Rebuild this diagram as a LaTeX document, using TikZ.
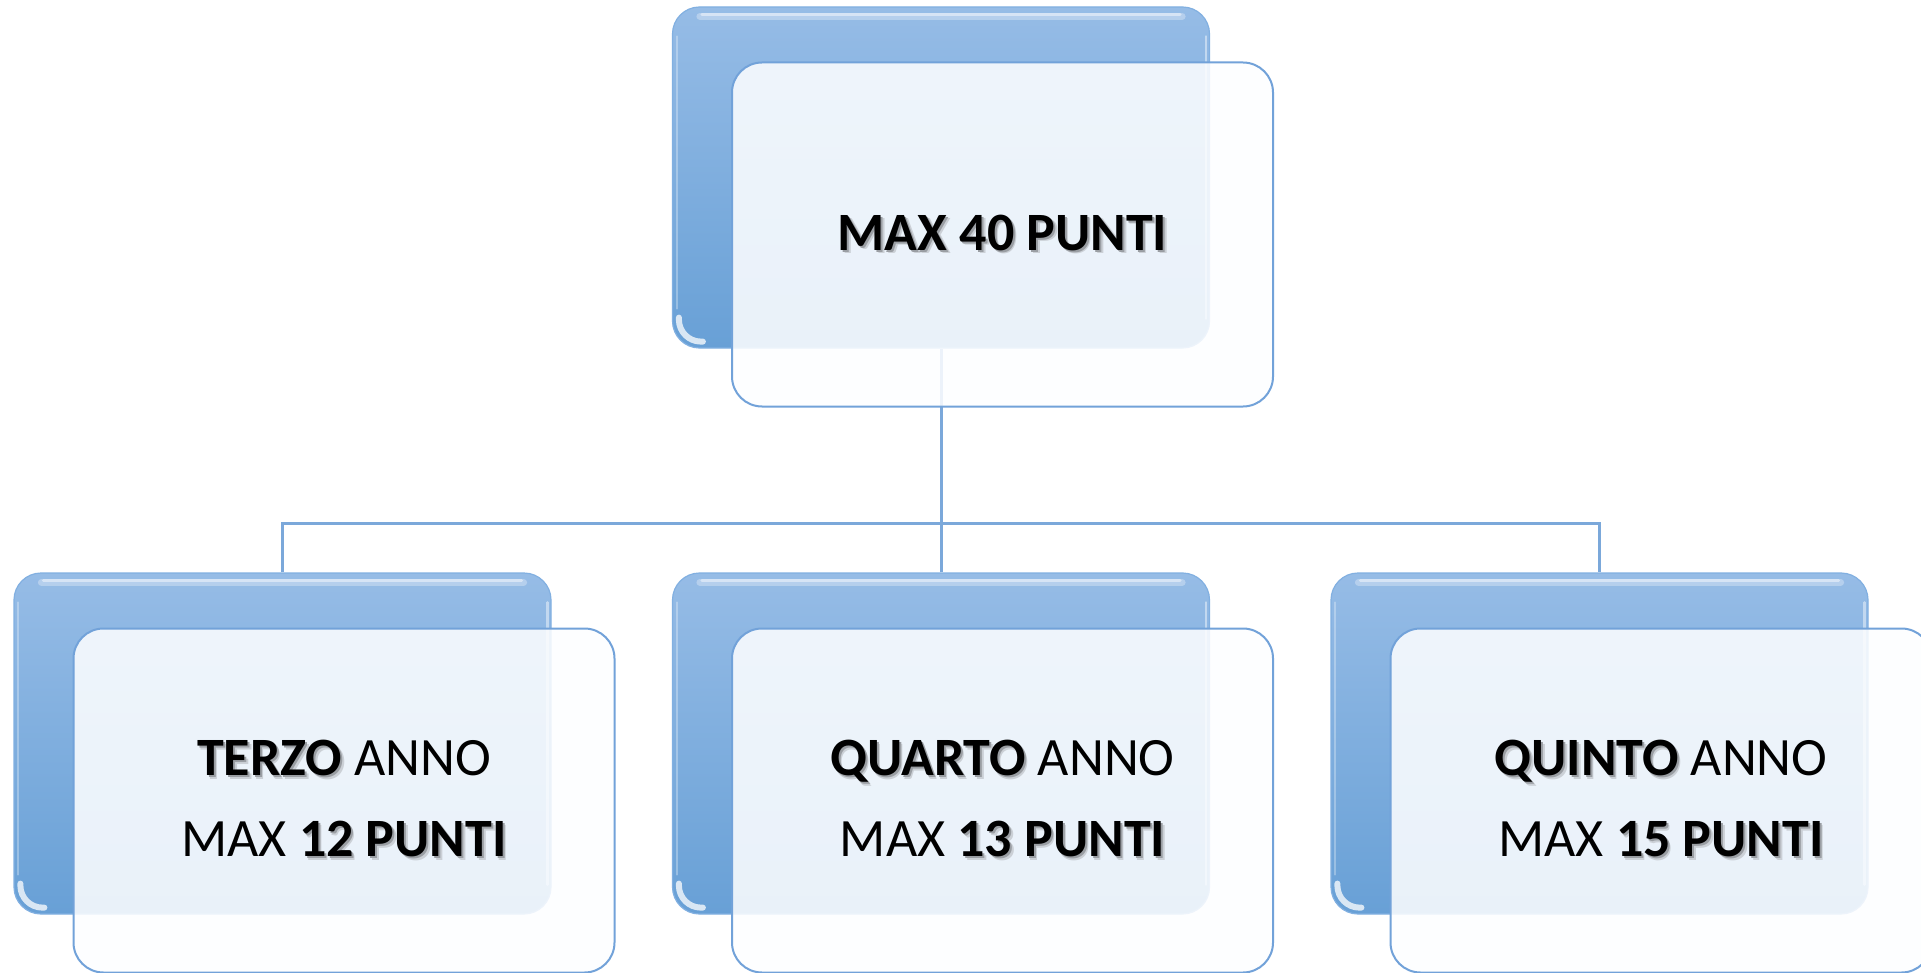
\documentclass[tikz,border=0pt]{standalone}
\usepackage{fontspec}
\setmainfont{Carlito}
\usetikzlibrary{calc}

\definecolor{backtop}{HTML}{96BCE6}
\definecolor{backbot}{HTML}{68A0D6}
\definecolor{backedge}{HTML}{82B0E1}
\definecolor{frontedge}{HTML}{72A2D9}
\definecolor{frontfill}{HTML}{FDFEFF}
\definecolor{linkcol}{HTML}{7BA8DA}
\definecolor{shadowA}{HTML}{9A9EA3}
\definecolor{shadowB}{HTML}{CBD0D6}

% bold text with a soft drop shadow
\newcommand\boldshadow[1]{{\bfseries
  \makebox[0pt][l]{\kern3.5pt\raisebox{-3.5pt}{\color{shadowB}#1}}%
  \makebox[0pt][l]{\kern2pt\raisebox{-2pt}{\color{shadowA}#1}}%
  #1}}

\tikzset{
  backbox/.style={rounded corners=27pt, minimum width=537pt, minimum height=341pt,
    inner sep=0pt, draw=backedge, line width=1.2pt,
    top color=backtop, bottom color=backbot},
  frontbox/.style={rounded corners=30pt, minimum width=541pt, minimum height=344pt,
    inner sep=0pt, draw=frontedge, line width=2pt,
    fill=frontfill, fill opacity=0.87, text opacity=1,
    align=center, font=\fontsize{54}{81}\selectfont},
  link/.style={draw=linkcol, line width=3pt},
  gloss/.style={white, line cap=round}
}

\begin{document}
\begin{tikzpicture}[x=1pt, y=-1pt]
  \fill[white] (0,0) rectangle (1921,973);
  \useasboundingbox (0,0) rectangle (1921,973);

  % back panels
  \node[backbox] (b0) at (941,177.5) {};
  \node[backbox] (b1) at (282.5,743.5) {};
  \node[backbox] (b2) at (941,743.5) {};
  \node[backbox] (b3) at (1599.5,743.5) {};

  % glossy highlights on the back panels
  \foreach \b in {b0,b1,b2,b3}{
    \draw[gloss, line width=7pt, opacity=0.3]
      ([xshift=28pt,yshift=-10pt]\b.north west) -- ([xshift=-28pt,yshift=-10pt]\b.north east);
    \draw[gloss, line width=3pt, opacity=0.45]
      ([xshift=30pt,yshift=-8pt]\b.north west) -- ([xshift=-30pt,yshift=-8pt]\b.north east);
    \draw[gloss, line width=2.5pt, opacity=0.45]
      ([xshift=-4pt,yshift=-30pt]\b.north east) -- ([xshift=-4pt,yshift=30pt]\b.south east);
    \draw[gloss, line width=2pt, opacity=0.3]
      ([xshift=5pt,yshift=-30pt]\b.north west) -- ([xshift=5pt,yshift=40pt]\b.south west);
    \draw[gloss, line width=6pt, opacity=0.75, rounded corners=22pt]
      ([xshift=7pt,yshift=31pt]\b.south west) |- ([xshift=31pt,yshift=7pt]\b.south west);
  }

  % tree connectors
  \coordinate (bus) at (941,523);
  \draw[link] (b0.south) -- (bus);
  \draw[link] (b1.north) |- (bus) -| (b3.north);
  \draw[link] (b2.north) -- (bus);

  % front cards with the labels
  \node[frontbox] (f0) at (1002.5,234.5) {\boldshadow{MAX 40 PUNTI}};
  \node[frontbox] (f1) at (344,800.5) {\boldshadow{TERZO} ANNO\\MAX \boldshadow{12 PUNTI}};
  \node[frontbox] (f2) at (1002.5,800.5) {\boldshadow{QUARTO} ANNO\\MAX \boldshadow{13 PUNTI}};
  \node[frontbox] (f3) at (1661,800.5) {\boldshadow{QUINTO} ANNO\\MAX \boldshadow{15 PUNTI}};
\end{tikzpicture}
\end{document}
